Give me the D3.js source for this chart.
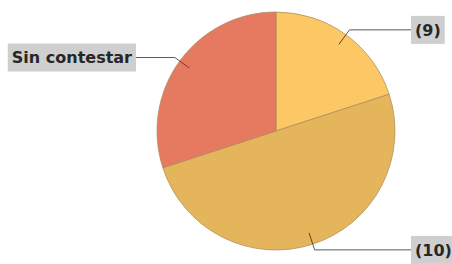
<!DOCTYPE html>
<html>
<head>
<meta charset="utf-8">
<script src="https://d3js.org/d3.v7.min.js"></script>
<style>
  body { margin:0; background:#fff; }
</style>
</head>
<body>
<script>
// categories in drawing order (clockwise from 12 o'clock)
var labels = ["(9)", "(10)", "Sin contestar"];
var values = [2, 5, 3];
var colors = ["#fcc765", "#e5b55b", "#e67a60"];

var w = 452, h = 264;
var cx = 276, cy = 131, r = 119;

var svg = d3.select("body").append("svg")
    .attr("width", w)
    .attr("height", h);

var pie = d3.pie().sort(null).value(function(d){ return d; });
var arcs = pie(values);
var arc = d3.arc().innerRadius(0).outerRadius(r);

var g = svg.append("g").attr("transform", "translate(" + cx + "," + cy + ")");

g.selectAll("path")
  .data(arcs)
  .enter().append("path")
  .attr("d", arc)
  .style("fill", function(d,i){ return colors[i]; })
  .style("stroke", "#a88a5a")
  .style("stroke-width", 0.7);

// label box edge nearest the pie
var labelX = [411, 411, 136];

function pt(a, rad) {
  return [Math.sin(a) * rad, -Math.cos(a) * rad];
}

arcs.forEach(function(d, i){
  var mid = (d.startAngle + d.endAngle) / 2;
  var p1 = pt(mid, r * 0.9);
  var p2 = pt(mid, r + 6);
  var right = Math.sin(mid) > 0;
  var lx = labelX[i] - cx;

  // inner tick, darker
  g.append("line")
    .attr("x1", p1[0]).attr("y1", p1[1])
    .attr("x2", pt(mid, r)[0]).attr("y2", pt(mid, r)[1])
    .style("stroke", "#7a3a20").style("stroke-width", 1);
  g.append("polyline")
    .attr("points", [pt(mid, r), p2, [lx, p2[1]]].map(function(p){ return p.join(","); }).join(" "))
    .style("fill", "none")
    .style("stroke", "#555c66")
    .style("stroke-width", 1);

  var t = g.append("text")
    .attr("y", p2[1])
    .attr("dy", "0.36em")
    .style("font-family", "DejaVu Sans")
    .style("font-weight", "bold")
    .style("font-size", "16px")
    .style("fill", "#262626")
    .text(labels[i]);
  var bw = t.node().getComputedTextLength();
  var bx = right ? lx : lx - bw - 8;
  t.attr("x", bx + 4);
  g.insert("rect", "text")
    .attr("x", bx).attr("y", p2[1] - 14)
    .attr("width", bw + 8).attr("height", 28)
    .style("fill", "#cfcfcf");
});
</script>
</body>
</html>
